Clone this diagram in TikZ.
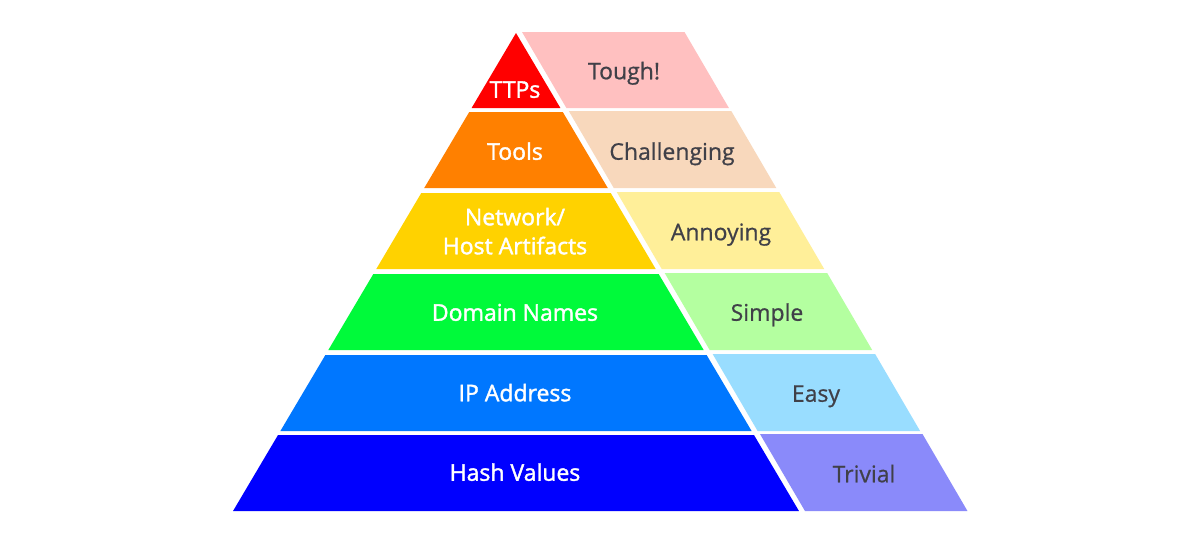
\documentclass[tikz,border=0pt]{standalone}
\usepackage{fontspec}
\setmainfont{Open Sans}
\newfontfamily\lftfont[FakeBold=1.6]{Open Sans}
\newfontfamily\rgtfont[FakeBold=0.7]{Open Sans}
\definecolor{cTTP}{HTML}{FF0000}
\definecolor{cTools}{HTML}{FF8000}
\definecolor{cNet}{HTML}{FFD200}
\definecolor{cDom}{HTML}{00FA3A}
\definecolor{cIP}{HTML}{0077FF}
\definecolor{cHash}{HTML}{0000FF}
\definecolor{rTTP}{HTML}{FFC0C0}
\definecolor{rTools}{HTML}{F8D8BC}
\definecolor{rNet}{HTML}{FFEF99}
\definecolor{rDom}{HTML}{B4FFA0}
\definecolor{rIP}{HTML}{99DDFF}
\definecolor{rHash}{HTML}{8A8AFA}
\definecolor{txtdark}{HTML}{404048}
\begin{document}
\begin{tikzpicture}[x=1pt,y=-1pt,
  lefttxt/.style={text=white,font=\lftfont\fontsize{23}{29}\selectfont,align=center,inner sep=0pt,text height=16.5pt,text depth=0pt},
  righttxt/.style={text=txtdark,font=\rgtfont\fontsize{23}{29}\selectfont,align=center,inner sep=0pt,text height=16.5pt,text depth=0pt}]
\fill[white] (0,0) rectangle (1200,550);
\useasboundingbox (0,0) rectangle (1200,550);
\foreach \t/\b/\cl/\cr in {33/108/cTTP/rTTP,112/188/cTools/rTools,193/269/cNet/rNet,274/350/cDom/rDom,355/431/cIP/rIP,435/511/cHash/rHash}{
  \pgfmathsetmacro\dt{0.592*(\t-33)}
  \pgfmathsetmacro\db{0.592*(\b-33)}
  \fill[\cl] ({516-\dt},\t) -- ({516+\dt},\t) -- ({516+\db},\b) -- ({516-\db},\b) -- cycle;
  \fill[\cr] ({522+\dt},{\t-1}) -- ({684.5+\dt},{\t-1}) -- ({684.5+\db},\b) -- ({522+\db},\b) -- cycle;
}
\node[lefttxt] (ttp) at (515,89.5) {TTPs};
\node[righttxt] (tough) at (624,71) {Tough!};
\node[lefttxt] (tools) at (515,151.5) {Tools};
\node[righttxt] (chal) at (672,151.5) {Challenging};
\node[lefttxt] (net) at (515,246) {Network/\\Host Artifacts};
\node[righttxt] (ann) at (721,232) {Annoying};
\node[lefttxt] (dom) at (515,312.5) {Domain Names};
\node[righttxt] (simp) at (767,312.5) {Simple};
\node[lefttxt] (ip) at (515,393) {IP Address};
\node[righttxt] (easy) at (816,393.5) {Easy};
\node[lefttxt] (hash) at (515,472.5) {Hash Values};
\node[righttxt] (triv) at (864,474) {Trivial};
\end{tikzpicture}
\end{document}
